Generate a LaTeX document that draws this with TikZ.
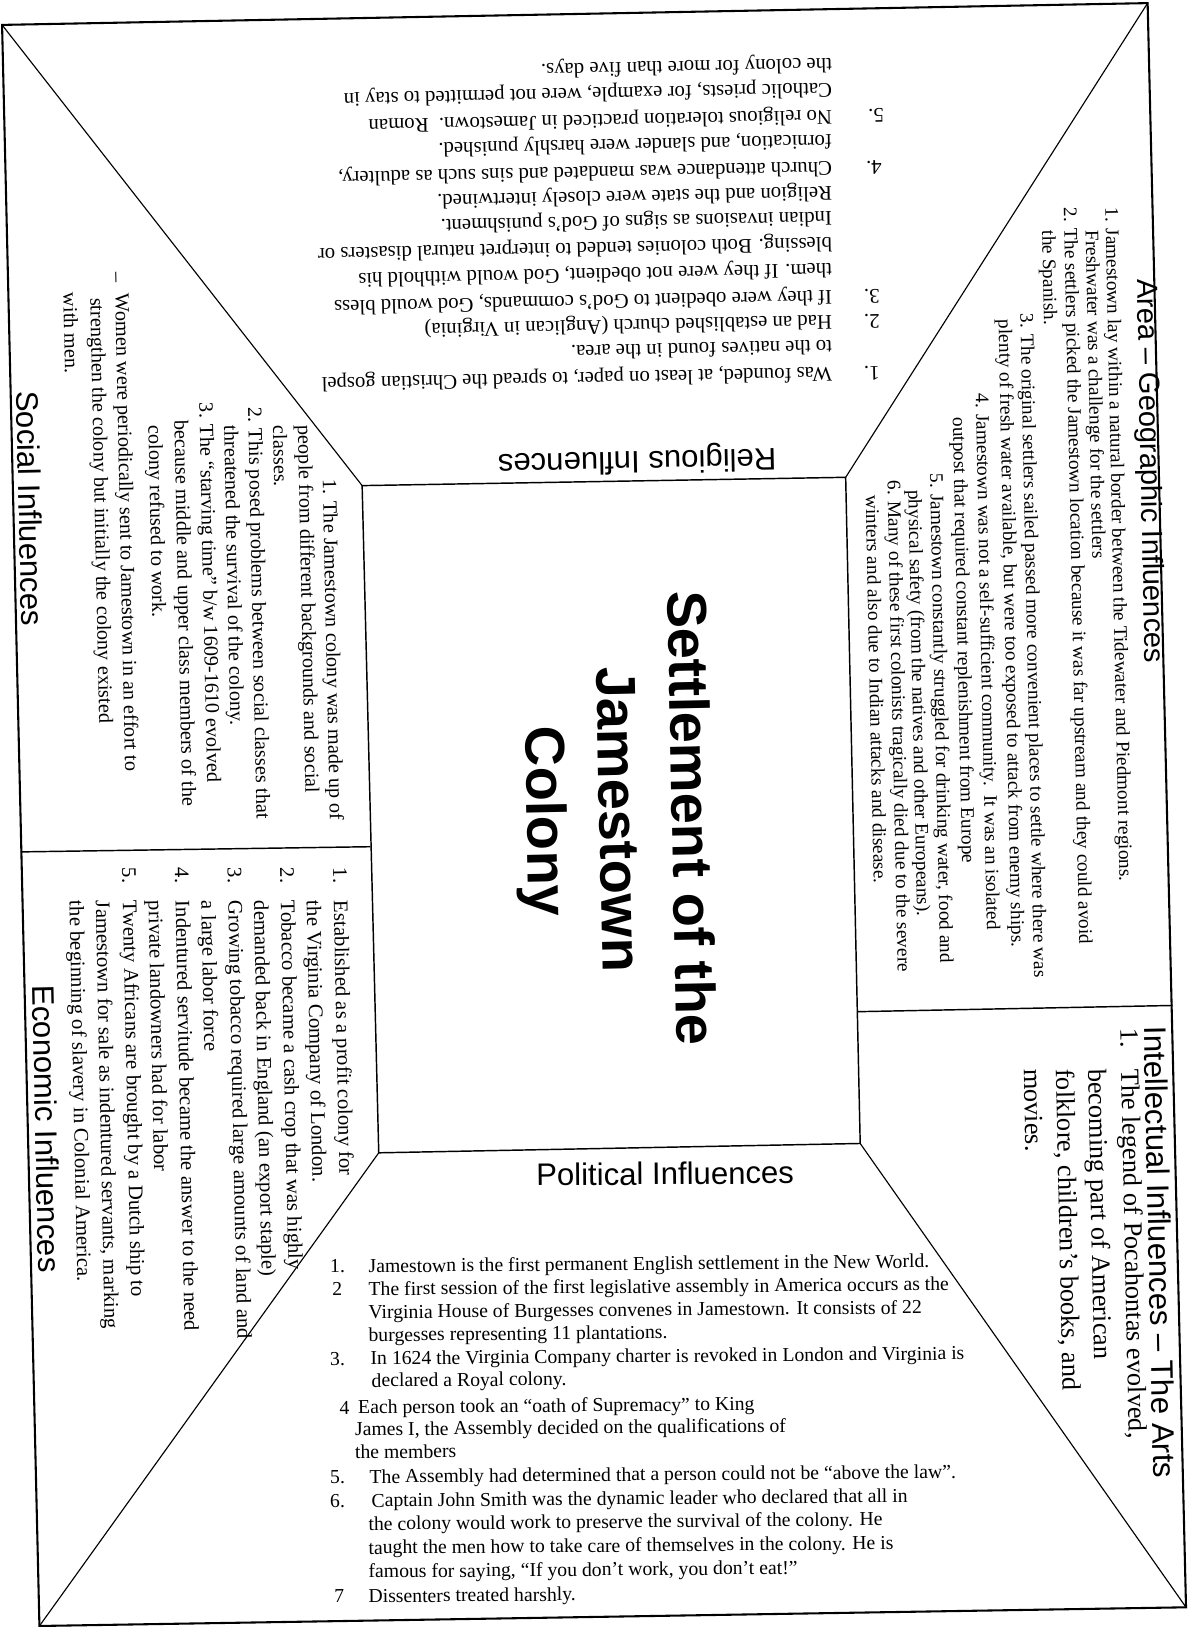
\documentclass[tikz,border=0pt]{standalone}
\usepackage{fontspec}
\setmainfont{Liberation Serif}
\newfontfamily\sansf{Liberation Sans}
\begin{document}
\begin{tikzpicture}[x=1pt,y=-1pt,
  bordline/.style={line width=2pt},
  innerline/.style={line width=1.4pt},
  diagline/.style={line width=1.1pt},
  divline/.style={line width=1.4pt},
  headtxt/.style={font=\sansf\fontsize{30}{36}\selectfont, inner sep=0pt},
  titletxt/.style={rotate=-88.8, align=center, inner sep=0pt, font=\sansf\bfseries\fontsize{54}{70}\selectfont},
  lineT/.style={inner sep=0pt, anchor=west},
  relL/.style={lineT, rotate=181.2, text height=14pt, text depth=4pt, font=\fontsize{20}{24}\selectfont},
  areaL/.style={lineT, rotate=-88.8, text height=13pt, text depth=3.7pt, font=\fontsize{18.6}{21}\selectfont},
  intL/.style={lineT, rotate=-88.8, text height=17.8pt, text depth=5.1pt, font=\fontsize{25.4}{31}\selectfont},
  socL/.style={lineT, rotate=-88.8, text height=13.7pt, text depth=3.9pt, font=\fontsize{19.5}{24}\selectfont},
  ecoL/.style={lineT, rotate=-88.8, text height=14pt, text depth=4pt, font=\fontsize{20}{25}\selectfont},
  polL/.style={lineT, rotate=0.5, text height=13.3pt, text depth=3.8pt, font=\fontsize{19}{22}\selectfont},
]
\useasboundingbox (0,0) rectangle (1151,1568);
\fill[white] (0,0) rectangle (1151,1568);

% ---- frame geometry ----
\coordinate (OTL) at (2,24);
\coordinate (OTR) at (1106,3);
\coordinate (OBR) at (1143,1549);
\coordinate (OBL) at (38,1567);
\coordinate (ITL) at (349,468);
\coordinate (ITR) at (815,460);
\coordinate (IBR) at (829,1102);
\coordinate (IBL) at (365,1111);
\coordinate (LD1) at (20,821);
\coordinate (LD2) at (357,816);
\coordinate (RD1) at (826,975);
\coordinate (RD2) at (1130,969);

\draw[bordline] (OTL) -- (OTR) -- (OBR) -- (OBL) -- cycle;
\draw[innerline] (ITL) -- (ITR) -- (IBR) -- (IBL) -- cycle;
\draw[diagline] (OTL) -- (ITL);
\draw[diagline] (OTR) -- (ITR);
\draw[diagline] (OBR) -- (IBR);
\draw[diagline] (OBL) -- (IBL);
\draw[divline] (LD1) -- (LD2);
\draw[divline] (RD1) -- (RD2);

% ---- title ----
\node[titletxt] (title) at (592,790) {Settlement of the\\Jamestown\\Colony};

% ---- headings ----
\node[headtxt, rotate=181.2] (hrel) at (614,443) {Religious Influences};
\node[headtxt, rotate=0.5] (hpol) at (641,1131) {Political Influences};
\node[headtxt, rotate=-88.8] (hsoc) at (29,490) {Social Influences};
\node[headtxt, rotate=-88.8] (heco) at (45,1088) {Economic Influences};
\node[headtxt, rotate=-88.8, font=\sansf\fontsize{28}{34}\selectfont] (harea) at (1107,454) {Area – Geographic Influences};
\node[headtxt, rotate=-88.8] (hint) at (1118,1207) {Intellectual Influences – The Arts};

% ---- religious (upside down) ----
\node[relL] (r1) at (848,358) {\makebox[46pt][l]{1.}Was founded, at least on paper, to spread the Christian gospel};
\node[relL] (r2) at (802,333) {to the natives found in the area.};
\node[relL] (r3) at (848,308) {\makebox[46pt][l]{2.}Had an established church (Anglican in Virginia)};
\node[relL] (r4) at (848,284) {\makebox[46pt][l]{3.}If they were obedient to God's commands, God would bless};
\node[relL] (r5) at (802,259) {them. If they were not obedient, God would withhold his};
\node[relL] (r6) at (802,234) {blessing. Both colonies tended to interpret natural disasters or};
\node[relL] (r7) at (802,209) {Indian invasions as signs of God's punishment.};
\node[relL] (r8) at (802,185) {Religion and the state were closely intertwined.};
\node[relL] (r9) at (850,160) {\makebox[48pt][l]{4.}Church attendance was mandated and sins such as adultery,};
\node[relL] (r10) at (802,135) {fornication, and slander were harshly punished.};
\node[relL] (r11) at (852,110) {\makebox[50pt][l]{5.}No religious toleration practiced in Jamestown.\ \ Roman};
\node[relL] (r12) at (802,85) {Catholic priests, for example, were not permitted to stay in};
\node[relL] (r13) at (802,61) {the colony for more than five days.};

% ---- area / geographic ----
\node[areaL] (a1) at (1070,200) {1. Jamestown lay within a natural border between the Tidewater and Piedmont regions.};
\node[areaL] (a2) at (1051,222) {Freshwater was a challenge for the settlers};
\node[areaL] (a3) at (1030,200) {2. The settlers picked the Jamestown location because it was far upstream and they could avoid};
\node[areaL] (a4) at (1009,222) {the Spanish.};
\node[areaL] (a5) at (988,302) {3. The original settlers sailed passed more convenient places to settle where there was};
\node[areaL] (a6) at (967,308) {plenty of fresh water available, but were too exposed to attack from enemy ships.};
\node[areaL] (a7) at (945,379) {4. Jamestown was not a self-sufficient community.\ \ It was an isolated};
\node[areaL] (a8) at (923,402) {outpost that required constant replenishment from Europe};
\node[areaL] (a9) at (901,456) {5. Jamestown constantly struggled for drinking water, food and};
\node[areaL] (a10) at (880,472) {physical safety (from the natives and other Europeans).};
\node[areaL] (a11) at (860,463) {6. Many of these first colonists tragically died due to the severe};
\node[areaL] (a12) at (839,477) {winters and also due to Indian attacks and disease.};

% ---- intellectual ----
\node[intL] (i1) at (1086,991) {\makebox[39pt][l]{1.}The legend of Pocahontas evolved,};
\node[intL] (i2) at (1055,1030) {becoming part of American};
\node[intL] (i3) at (1024,1030) {folklore, children's books, and};
\node[intL] (i4) at (993,1030) {movies.};

% ---- social ----
\node[socL] (s1) at (316,462) {1. The Jamestown colony was made up of};
\node[socL] (s2) at (292,410) {people from different backgrounds and social};
\node[socL] (s3) at (268,410) {classes.};
\node[socL] (s4) at (244,392) {2. This posed problems between social classes that};
\node[socL] (s5) at (221,410) {threatened the survival of the colony.};
\node[socL] (s6) at (197,388) {3. The “starving time” b/w 1609-1610 evolved};
\node[socL] (s7) at (173,405) {because middle and upper class members of the};
\node[socL] (s8) at (148,410) {colony refused to work.};
\node[socL] (smark) at (112,262) {–};
\node[socL] (s9) at (116,283) {Women were periodically sent to Jamestown in an effort to};
\node[socL] (s10) at (92,287) {strengthen the colony but initially the colony existed};
\node[socL] (s11) at (66,282) {with men.};

% ---- economic ----
\node[ecoL] (e1) at (326,836) {\makebox[32pt][l]{1.}Established as a profit colony for};
\node[ecoL] (e2) at (300.6,868) {the Virginia Company of London.};
\node[ecoL] (e3) at (275,836) {\makebox[32pt][l]{2.}Tobacco became a cash crop that was highly};
\node[ecoL] (e4) at (249.8,868) {demanded back in England (an export staple)};
\node[ecoL] (e5) at (224.4,836) {\makebox[32pt][l]{3.}Growing tobacco required large amounts of land and};
\node[ecoL] (e6) at (199,868) {a large labor force};
\node[ecoL] (e7) at (173.6,836) {\makebox[32pt][l]{4.}Indentured servitude became the answer to the need};
\node[ecoL] (e8) at (148.2,868) {private landowners had for labor};
\node[ecoL] (e9) at (122.8,836) {\makebox[32pt][l]{5.}Twenty Africans are brought by a Dutch ship to};
\node[ecoL] (e10) at (97.4,868) {Jamestown for sale as indentured servants, marking};
\node[ecoL] (e11) at (72,868) {the beginning of slavery in Colonial America.};

% ---- political ----
\node[polL] (p1) at (318,1222) {\makebox[37pt][l]{1.}Jamestown is the first permanent English settlement in the New World.};
\node[polL] (p2) at (320,1244) {\makebox[35pt][l]{2}The first session of the first legislative assembly in America occurs as the};
\node[polL] (p3) at (355,1266) {Virginia House of Burgesses convenes in Jamestown. It consists of 22};
\node[polL] (p4) at (355,1288) {burgesses representing 11 plantations.};
\node[polL] (p5) at (318,1311) {\makebox[39pt][l]{3.}In 1624 the Virginia Company charter is revoked in London and Virginia is};
\node[polL] (p6) at (358,1332) {declared a Royal colony.};
\node[polL] (p7) at (327,1358) {\makebox[18pt][l]{4}Each person took an “oath of Supremacy” to King};
\node[polL] (p8) at (342,1379) {James I, the Assembly decided on the qualifications of};
\node[polL] (p9) at (342,1401) {the members};
\node[polL] (p10) at (318,1425) {\makebox[38pt][l]{5.}The Assembly had determined that a person could not be “above the law”.};
\node[polL] (p11) at (318,1448) {\makebox[40pt][l]{6.}Captain John Smith was the dynamic leader who declared that all in};
\node[polL] (p12) at (355,1470) {the colony would work to preserve the survival of the colony. He};
\node[polL] (p13) at (355,1493) {taught the men how to take care of themselves in the colony. He is};
\node[polL] (p14) at (355,1516) {famous for saying, “If you don't work, you don't eat!”};
\node[polL] (p15) at (322,1540) {\makebox[33pt][l]{7}Dissenters treated harshly.};
\end{tikzpicture}
\end{document}
